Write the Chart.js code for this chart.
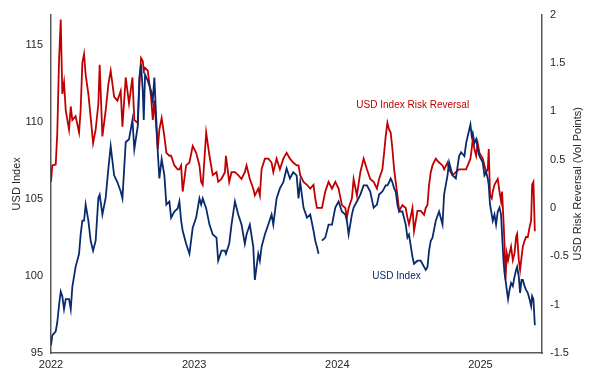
<!DOCTYPE html>
<html>
<head>
<meta charset="utf-8">
<script src="https://cdn.jsdelivr.net/npm/chart.js@4/dist/chart.umd.min.js"></script>
<style>
  body { margin: 0; background: #fff; }
  #wrap { width: 592px; height: 373px; }
</style>
</head>
<body>
<div id="wrap"><canvas id="myChart" width="592" height="373"></canvas></div>
<script>
// dates as decimal years
const years = [
  2022.000, 2022.009, 2022.033, 2022.044, 2022.056, 2022.068, 2022.079, 2022.091, 2022.103, 2022.126,
  2022.138, 2022.149, 2022.172, 2022.196, 2022.207, 2022.219, 2022.231, 2022.242, 2022.261, 2022.277,
  2022.294, 2022.312, 2022.331, 2022.340, 2022.359, 2022.382, 2022.401, 2022.417, 2022.441, 2022.464,
  2022.487, 2022.499, 2022.522, 2022.545, 2022.569,
  2022.582, 2022.606, 2022.617, 2022.629, 2022.641, 2022.648, 2022.657, 2022.676, 2022.699, 2022.711,
  2022.722, 2022.746, 2022.757, 2022.773, 2022.792, 2022.806, 2022.827, 2022.839, 2022.862, 2022.885,
  2022.897, 2022.909, 2022.920, 2022.944, 2022.967, 2022.990, 2023.014, 2023.037, 2023.049, 2023.060,
  2023.084, 2023.107, 2023.130,
  2023.156, 2023.168, 2023.191, 2023.215, 2023.222, 2023.245, 2023.261, 2023.285, 2023.308, 2023.331,
  2023.354, 2023.366, 2023.389, 2023.413, 2023.424, 2023.448, 2023.459, 2023.471, 2023.494, 2023.518,
  2023.541, 2023.553, 2023.576, 2023.599, 2023.623, 2023.646, 2023.669, 2023.692, 2023.716,
  2023.729, 2023.741, 2023.764, 2023.788, 2023.811, 2023.834, 2023.846, 2023.858, 2023.869, 2023.876,
  2023.893, 2023.916, 2023.939, 2023.963, 2023.986, 2024.009, 2024.032, 2024.056, 2024.067, 2024.079,
  2024.102, 2024.114, 2024.137, 2024.161, 2024.184, 2024.207, 2024.230, 2024.254, 2024.277,
  2024.292, 2024.315, 2024.327, 2024.338, 2024.350, 2024.362, 2024.373, 2024.385, 2024.397, 2024.408,
  2024.420, 2024.432, 2024.455, 2024.478, 2024.490, 2024.501, 2024.525, 2024.536, 2024.560, 2024.583,
  2024.606, 2024.618, 2024.630, 2024.641, 2024.653, 2024.665, 2024.688, 2024.711, 2024.735, 2024.746,
  2024.770, 2024.781, 2024.805, 2024.828, 2024.851,
  2024.865, 2024.888, 2024.900, 2024.911, 2024.930, 2024.939, 2024.946, 2024.958, 2024.970, 2024.981,
  2024.993, 2025.016, 2025.028, 2025.040, 2025.051, 2025.058, 2025.067, 2025.079, 2025.086, 2025.098,
  2025.109, 2025.121, 2025.133, 2025.144, 2025.151, 2025.161, 2025.168, 2025.175, 2025.184, 2025.193,
  2025.203, 2025.214, 2025.226, 2025.238, 2025.249, 2025.256, 2025.268, 2025.277, 2025.287, 2025.296,
  2025.308, 2025.319, 2025.331, 2025.343, 2025.354, 2025.361, 2025.370, 2025.380
]

const usdIndex = [
  95.5, 96.15, 96.4, 97.0, 98.1, 99.0, 98.7, 97.85, 98.5, 98.5,
  97.85, 99.3, 100.6, 101.45, 102.7, 103.6, 103.6, 104.65, 103.6, 102.3,
  101.65, 102.3, 105.1, 105.3, 104.0, 105.1, 107.0, 108.45, 106.55, 106.1,
  105.5, 105.05, 108.7, 108.9, 110.15,
  108.25, 109.75, 112.9, 113.75, 112.05, 110.15, 113.1, 112.7, 112.05, 111.4,
  112.9, 108.05, 106.35, 107.6, 106.55, 104.65, 104.85, 103.8, 104.2, 104.4,
  104.85, 103.6, 102.95, 102.1, 101.45, 103.15, 103.8, 105.05, 104.65, 105.05,
  104.4, 103.35, 102.7,
  102.5, 101.0, 101.65, 101.65, 101.45, 102.1, 103.35, 104.85, 104.0, 103.35,
  102.1, 102.7, 103.35, 101.9, 99.75, 101.45, 101.0, 101.9, 102.7, 103.35,
  104.0, 103.35, 105.05, 105.7, 106.1, 107.0, 106.35, 106.75, 106.55,
  105.05, 106.1, 104.45, 103.8, 104.0, 102.95, 102.3, 101.9, 101.45, null,
  102.3, 102.5, 103.35, 103.35, 104.45, 104.85, 104.2, 104.0, 103.6, 102.7,
  104.0, 104.45, 104.85, 105.3, 105.9, 105.9, 105.5, 104.45, 104.65,
  105.3, 105.5, 105.7, 105.9, 105.9, 106.1, 106.35, 106.1, 105.7, 105.5,
  104.65, 104.2, 104.2, 103.35, 102.5, 102.7, 101.25, 100.8, 101.0, 101.0,
  100.6, 100.4, 100.6, 101.65, 102.3, 102.5, 103.6, 104.2, 103.35, 105.3,
  106.55, 107.4, 106.55, 106.35, 107.8,
  108.05, 107.8, 108.65, 109.1, 109.85, 109.1, 109.3, 108.65, 108.9, 108.25,
  107.8, 107.4, 106.55, 106.75, 106.35, 105.9, 104.65, 104.0, 103.6, 104.0,
  103.35, 104.2, 104.45, 104.0, 102.7, 101.0, 100.2, 99.75, 99.1, 98.5,
  99.1, 99.55, 99.35, 99.95, 100.4, 100.6, 99.95, 98.9, 99.75, 99.75,
  99.35, 99.1, 98.9, 98.5, 98.05, 98.7, 98.5, 96.8
]

const riskReversal = [
  0.27, 0.44, 0.45, 0.78, 1.52, 1.95, 1.18, 1.3, 1.01, 0.81,
  1.05, 0.91, 0.95, 0.78, 1.01, 1.5, 1.59, 1.38, 1.18, 0.94,
  0.67, 0.81, 1.08, 1.48, 0.74, 1.01, 1.28, 1.42, 1.15, 1.11,
  1.21, 0.84, 1.35, 1.08, 1.35,
  0.91, 0.88, 1.25, 1.55, 1.52, 1.42, 1.45, 1.42, 1.15, 0.91,
  1.11, 0.61, 0.81, 0.93, 0.74, 0.57, 0.54, 0.54, 0.44, 0.40,
  0.40, 0.44, 0.17, 0.44, 0.47, 0.64, 0.57, 0.44, 0.27, 0.24,
  0.78, 0.54, 0.34,
  0.37, 0.27, 0.30, 0.37, 0.54, 0.27, 0.37, 0.37, 0.34, 0.30,
  0.37, 0.44, 0.30, 0.20, 0.13, 0.20, 0.13, 0.40, 0.51, 0.51,
  0.47, 0.37, 0.51, 0.40, 0.51, 0.57, 0.51, 0.47, 0.44,
  0.44, 0.34, 0.27, 0.24, 0.20, 0.24, 0.10, 0.0, 0.0, 0.0,
  0.0, 0.17, 0.27, 0.20, 0.27, 0.20, 0.03, 0.0, -0.10, 0.0,
  0.10, 0.30, 0.13, 0.37, 0.51, 0.40, 0.30, 0.27, 0.20,
  0.30, 0.40, 0.57, 0.74, 0.88, 0.81, 0.78, 0.61, 0.40, 0.27,
  0.13, -0.03, 0.03, 0.0, -0.10, -0.17, 0.0, -0.24, -0.03, -0.03,
  -0.07, 0.0, 0.03, 0.24, 0.37, 0.44, 0.51, 0.47, 0.44, 0.40,
  0.47, 0.40, 0.34, 0.37, 0.40,
  0.40, 0.40, 0.40, 0.44, 0.51, 0.61, 0.71, 0.61, 0.54, 0.67,
  0.57, 0.51, 0.44, 0.37, 0.40, 0.61, 0.13, 0.10, 0.17, 0.24,
  0.27, 0.30, 0.17, 0.07, 0.17, -0.13, -0.37, -0.74, -0.47, -0.54,
  -0.47, -0.40, -0.54, -0.47, -0.30, -0.27, -0.54, -0.64, -0.51, -0.40,
  -0.34, -0.30, -0.30, -0.20, -0.13, 0.24, 0.27, -0.24
]

const yearTicks = [2022, 2023, 2024, 2025]
const leftTicks = [95, 100, 105, 110, 115]
const rightTicks = [-1.5, -1, -0.5, 0, 0.5, 1, 1.5, 2]

const blue = '#0a2a6e'
const red = '#c00000'
const axisColor = '#595959'
const textColor = '#262626'
const font = { family: "'Liberation Sans', Arial, sans-serif", size: 11 }

const usdPoints = years.map((x, i) => ({ x: x, y: usdIndex[i] }))
const rrPoints = years.map((x, i) => ({ x: x, y: riskReversal[i] }))

// line labels on the plot + right axis title (reads bottom to top like the left one)
const extraText = {
  id: 'extraText',
  afterDraw(chart) {
    const { ctx, scales, chartArea } = chart
    ctx.save()
    ctx.font = "10px 'Liberation Sans', Arial, sans-serif"
    ctx.textBaseline = 'middle'
    ctx.textAlign = 'left'
    ctx.fillStyle = red
    ctx.fillText('USD Index Risk Reversal', scales.x.getPixelForValue(2024.133), scales.y2.getPixelForValue(1.06))
    ctx.fillStyle = blue
    ctx.fillText('USD Index', scales.x.getPixelForValue(2024.245), scales.y.getPixelForValue(99.97))

    ctx.font = "11px 'Liberation Sans', Arial, sans-serif"
    ctx.fillStyle = textColor
    ctx.textAlign = 'center'
    ctx.translate(scales.y2.right - 14, (chartArea.top + chartArea.bottom) / 2)
    ctx.rotate(-Math.PI / 2)
    ctx.fillText('USD Risk Reversal (Vol Points)', 0, 0)
    ctx.restore()
  }
}

const ctx = document.getElementById('myChart')

new Chart(ctx, {
  type: 'line',
  data: {
    datasets: [
      {
        label: 'USD Index',
        data: usdPoints,
        yAxisID: 'y',
        borderColor: blue,
        borderWidth: 1.8,
        pointRadius: 0,
        tension: 0,
        spanGaps: false
      },
      {
        label: 'USD Index Risk Reversal',
        data: rrPoints,
        yAxisID: 'y2',
        borderColor: red,
        borderWidth: 1.8,
        pointRadius: 0,
        tension: 0
      }
    ]
  },
  options: {
    responsive: false,
    animation: false,
    layout: { padding: { top: 8 } },
    plugins: {
      legend: { display: false },
      tooltip: { enabled: false }
    },
    scales: {
      x: {
        type: 'linear',
        min: 2022,
        max: 2025.43,
        grid: { display: false, drawTicks: false },
        border: { display: true, color: axisColor, width: 1.5 },
        afterBuildTicks: (s) => { s.ticks = yearTicks.map(v => ({ value: v })) },
        afterFit: (s) => { s.height = 20 },
        ticks: {
          padding: 5,
          maxRotation: 0,
          color: textColor,
          font: font,
          callback: (v) => String(v)
        }
      },
      y: {
        position: 'left',
        min: 95,
        max: 117,
        grid: { display: false, drawTicks: false },
        border: { display: true, color: axisColor, width: 1.5 },
        afterBuildTicks: (s) => { s.ticks = leftTicks.map(v => ({ value: v })) },
        afterFit: (s) => { s.width = 51 },
        ticks: { padding: 8, color: textColor, font: font, callback: (v) => String(v) },
        title: {
          display: true,
          text: 'USD Index',
          color: textColor,
          font: font,
          padding: { top: 10, bottom: 0 }
        }
      },
      y2: {
        position: 'right',
        min: -1.5,
        max: 2,
        grid: { display: false, drawTicks: false },
        border: { display: true, color: axisColor, width: 1.5 },
        afterBuildTicks: (s) => { s.ticks = rightTicks.map(v => ({ value: v })) },
        afterFit: (s) => { s.width = 50 },
        ticks: { padding: 8, color: textColor, font: font, callback: (v) => String(v) }
      }
    }
  },
  plugins: [extraText]
})
</script>
</body>
</html>
